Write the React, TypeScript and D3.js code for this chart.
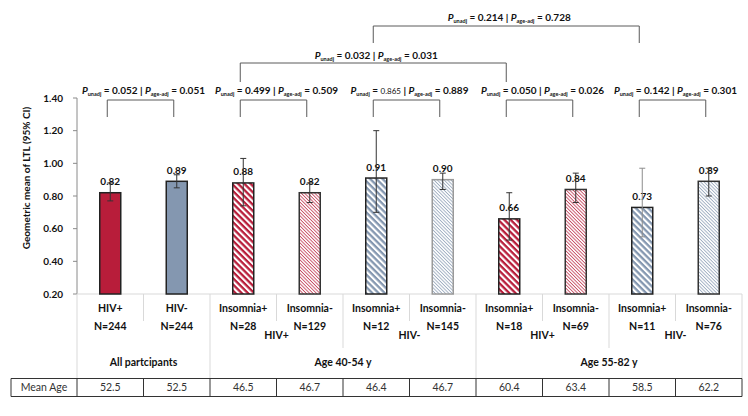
import React from "react";
import * as d3 from "d3";

const categories = ["HIV+", "HIV-", "Insomnia+", "Insomnia-", "Insomnia+", "Insomnia-", "Insomnia+", "Insomnia-", "Insomnia+", "Insomnia-"];
const nLabels = ["N=244", "N=244", "N=28", "N=129", "N=12", "N=145", "N=18", "N=69", "N=11", "N=76"];
const values = [0.82, 0.89, 0.88, 0.82, 0.91, 0.90, 0.66, 0.84, 0.73, 0.89];
const ciLow = [0.77, 0.85, 0.74, 0.76, 0.70, 0.84, 0.53, 0.76, 0.55, 0.80];
const ciHigh = [0.88, 0.93, 1.03, 0.88, 1.20, 0.94, 0.82, 0.94, 0.97, 0.97];
const meanAge = ["52.5", "52.5", "46.5", "46.7", "46.4", "46.7", "60.4", "63.4", "58.5", "62.2"];
const fills = ["solidRed", "solidBlue", "wideRed", "narrowRed", "wideBlue", "narrowBlue", "wideRed", "narrowRed", "wideBlue", "narrowBlue"];
const outlineColors = ["#222", "#222", "#222", "#333", "#222", "#9a9a9a", "#222", "#333", "#222", "#333"];
const errColors = ["#333", "#333", "#333", "#333", "#333", "#333", "#333", "#333", "#8c8c8c", "#333"];
const yTicks = [0.2, 0.4, 0.6, 0.8, 1.0, 1.2, 1.4];

const groupLabels = ["All partcipants", "Age 40-54 y", "Age 55-82 y"];
const groupStart = [0, 2, 6];
const groupEnd = [1, 5, 9];
const subLabels = ["HIV+", "HIV-", "HIV+", "HIV-"];
const subStart = [2, 4, 6, 8];

// p-value brackets: level, from, to, unadj, age-adj
const brLevel = [1, 1, 1, 1, 1, 2, 3];
const brFrom = [0, 2, 4, 6, 8, 2, 4];
const brTo = [1, 3, 5, 7, 9, 6, 8];
const brUnadj = ["0.052", "0.499", "0.865", "0.050", "0.142", "0.032", "0.214"];
const brAge = ["0.051", "0.509", "0.889", "0.026", "0.301", "0.031", "0.728"];

const RED = "#B81D3A";
const BLUE = "#8497B0";
const FONT = "Lato, 'Open Sans', sans-serif";
const TXT = "#111";

export default function App() {
  const W = 748, H = 416;
  const x = d3.scaleBand<number>().domain(d3.range(categories.length)).range([77, 742]).padding(0);
  const y = d3.scaleLinear().domain([0.2, 1.4]).range([294, 98]);
  const bw = x.bandwidth();
  const barW = 21;
  const cx = (i: number) => (x(i) as number) + bw / 2;

  const levelY: Record<number, { text: number; line: number; bottom: number }> = {
    1: { text: 94, line: 100, bottom: 117 },
    2: { text: 59, line: 63, bottom: 82 },
    3: { text: 21, line: 26, bottom: 43 },
  };

  const pText = (i: number, xc: number, yb: number) => {
    const smallFirst = brUnadj[i] === "0.865";
    return (
      <text key={"pt" + i} x={xc} y={yb} textAnchor="middle" fontFamily={FONT} fontWeight="bold" fontSize={10} fill={TXT}>
        <tspan fontStyle="italic">P</tspan>
        <tspan fontSize={5.5} dy={1.5}>unadj</tspan>
        <tspan dy={-1.5}>{" = "}</tspan>
        {smallFirst ? (
          <tspan fontSize={8} fontWeight="normal">{brUnadj[i]}</tspan>
        ) : (
          <tspan>{brUnadj[i]}</tspan>
        )}
        <tspan>{brLevel[i] === 3 ? "  | " : " | "}</tspan>
        <tspan fontStyle="italic">P</tspan>
        <tspan fontSize={5.5} dy={1.5}>age-adj</tspan>
        <tspan dy={-1.5}>{" = " + brAge[i]}</tspan>
      </text>
    );
  };

  const boundaries = d3.range(1, categories.length).map((i) => x(i) as number);
  const sepBottom = (i: number) => {
    if (groupStart.includes(i)) return 378;
    if (subStart.includes(i)) return 348;
    return 321;
  };

  return (
    <svg width={W} height={H} style={{ position: "absolute", left: 0, top: 0, background: "#fff" }}>
      <defs>
        <pattern id="wideRed" width={4.4} height={4.4} patternUnits="userSpaceOnUse" patternTransform="rotate(45)">
          <rect width={4.4} height={4.4} fill="#fff" />
          <rect width={4.4} height={2.3} fill={RED} />
        </pattern>
        <pattern id="narrowRed" width={2.4} height={2.4} patternUnits="userSpaceOnUse" patternTransform="rotate(45)">
          <rect width={2.4} height={2.4} fill="#fff" />
          <rect width={2.4} height={0.9} fill={RED} opacity={0.8} />
        </pattern>
        <pattern id="wideBlue" width={4.4} height={4.4} patternUnits="userSpaceOnUse" patternTransform="rotate(45)">
          <rect width={4.4} height={4.4} fill="#fff" />
          <rect width={4.4} height={2.3} fill={BLUE} />
        </pattern>
        <pattern id="narrowBlue" width={2.4} height={2.4} patternUnits="userSpaceOnUse" patternTransform="rotate(45)">
          <rect width={2.4} height={2.4} fill="#fff" />
          <rect width={2.4} height={0.9} fill={BLUE} opacity={0.8} />
        </pattern>
      </defs>
      <rect width={W} height={H} fill="#fff" />

      {/* y axis title */}
      <text transform={`translate(26,178) rotate(-90)`} textAnchor="middle" dominantBaseline="central" fontFamily={FONT} fontWeight="bold" fontSize={10} fill={TXT}>
        Geometric mean of LTL (95% CI)
      </text>

      {/* y axis */}
      <line x1={77} x2={77} y1={98} y2={294} stroke="#8a8a8a" />
      {yTicks.map((t) => (
        <g key={t}>
          <line x1={73} x2={77} y1={y(t)} y2={y(t)} stroke="#8a8a8a" />
          <text x={63} y={y(t)} dy="0.35em" textAnchor="end" fontFamily={FONT} fontWeight="bold" fontSize={10} fill={TXT}>
            {d3.format(".2f")(t)}
          </text>
        </g>
      ))}

      {/* category axis line */}
      <line x1={77} x2={742} y1={294} y2={294} stroke="#d9d9d9" />

      {/* bars */}
      {values.map((v, i) => (
        <rect
          key={"b" + i}
          x={cx(i) - barW / 2}
          y={y(v)}
          width={barW}
          height={y(0.2) - y(v)}
          fill={fills[i] === "solidRed" ? RED : fills[i] === "solidBlue" ? BLUE : `url(#${fills[i]})`}
          stroke={outlineColors[i]}
          strokeWidth={1.5}
        />
      ))}

      {/* value labels */}
      {values.map((v, i) => (
        <text key={"v" + i} x={cx(i)} y={y(v) - 7.5} textAnchor="middle" fontFamily={FONT} fontWeight="bold" fontSize={10} fill={TXT}>
          {d3.format(".2f")(v)}
        </text>
      ))}

      {/* error bars */}
      {values.map((v, i) => (
        <g key={"e" + i} stroke={errColors[i]} strokeWidth={1}>
          <line x1={cx(i)} x2={cx(i)} y1={y(ciLow[i])} y2={y(ciHigh[i])} />
          <line x1={cx(i) - 3} x2={cx(i) + 3} y1={y(ciLow[i])} y2={y(ciLow[i])} />
          <line x1={cx(i) - 3} x2={cx(i) + 3} y1={y(ciHigh[i])} y2={y(ciHigh[i])} />
        </g>
      ))}

      {/* brackets */}
      {brLevel.map((lv, i) => {
        const ly = levelY[lv];
        const x1 = cx(brFrom[i]) - 3;
        const x2 = cx(brTo[i]) - 3;
        return (
          <g key={"br" + i}>
            <path d={`M${x1},${ly.bottom}V${ly.line}H${x2}V${ly.bottom}`} fill="none" stroke="#5a5a5a" strokeWidth={1} />
            {pText(i, (cx(brFrom[i]) + cx(brTo[i])) / 2, ly.text)}
          </g>
        );
      })}

      {/* category label separators */}
      <line x1={77} x2={77} y1={294} y2={378} stroke="#d9d9d9" />
      <line x1={742} x2={742} y1={294} y2={378} stroke="#d9d9d9" />
      {boundaries.map((bx, k) => (
        <line key={"s" + k} x1={bx} x2={bx} y1={294} y2={sepBottom(k + 1)} stroke="#d9d9d9" />
      ))}

      {/* category labels */}
      {categories.map((c, i) => (
        <g key={"c" + i} fontFamily={FONT} fontWeight="bold" fontSize={10.5} fill={TXT} textAnchor="middle">
          <text x={cx(i)} y={312}>{c}</text>
          <text x={cx(i)} y={329.5}>{nLabels[i]}</text>
        </g>
      ))}
      {subLabels.map((s, k) => (
        <text key={"sl" + k} x={x(subStart[k] + 1) as number} y={339} textAnchor="middle" fontFamily={FONT} fontWeight="bold" fontSize={10.5} fill={TXT}>
          {s}
        </text>
      ))}
      {groupLabels.map((g, k) => (
        <text key={"g" + k} x={((x(groupStart[k]) as number) + (x(groupEnd[k]) as number) + bw) / 2} y={365.5} textAnchor="middle" fontFamily={FONT} fontWeight="bold" fontSize={10.5} fill={TXT}>
          {g}
        </text>
      ))}

      {/* mean age table */}
      <g stroke="#333" strokeWidth={1}>
        <line x1={11} x2={742} y1={378.5} y2={378.5} />
        <line x1={11} x2={742} y1={396.5} y2={396.5} />
        <line x1={11} x2={11} y1={378.5} y2={396.5} />
        <line x1={77} x2={77} y1={378.5} y2={396.5} />
        {categories.map((c, i) => (
          <line key={"tv" + i} x1={(x(i) as number) + bw} x2={(x(i) as number) + bw} y1={378.5} y2={396.5} />
        ))}
      </g>
      <text x={44} y={391} textAnchor="middle" fontFamily={FONT} fontSize={10.5} fill="#333">Mean Age</text>
      {meanAge.map((m, i) => (
        <text key={"m" + i} x={cx(i)} y={391} textAnchor="middle" fontFamily={FONT} fontSize={10.5} fill="#333">
          {m}
        </text>
      ))}
    </svg>
  );
}
